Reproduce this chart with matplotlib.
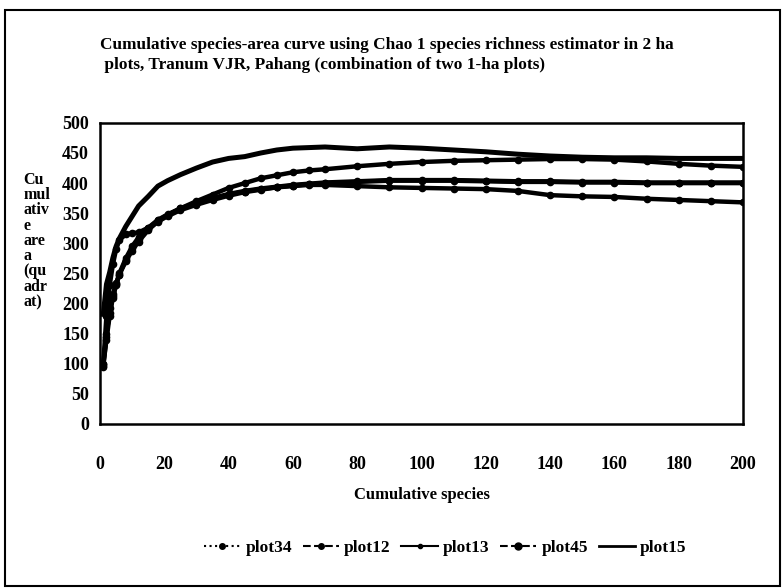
"""Cumulative species-area curve (Chao 1), Tranum VJR"""

import matplotlib
matplotlib.use('Agg')
import matplotlib.pyplot as plt
from matplotlib.lines import Line2D
from matplotlib.patches import Rectangle

# cumulative species (x)
species = [1, 2, 3, 4, 5, 6, 8, 10, 12, 15, 18, 21, 25, 30, 35, 40, 45, 50, 55, 60,
           65, 70, 80, 90, 100, 110, 120, 130, 140, 150, 160, 170, 180, 190, 200]

# cumulative area values
plot34 = [100, 180, 230, 265, 290, 305, 315, 317, 318, 326, 339, 348, 358, 367, 375, 382,
          387, 391, 394, 397, 399, 401, 403, 405, 405, 405, 404, 403, 403, 402, 402, 401,
          401, 401, 401]
plot12 = [95, 145, 192, 215, 234, 248, 270, 288, 303, 322, 337, 347, 358, 370, 381, 392,
          400, 408, 413, 418, 421, 423, 428, 432, 435, 437, 438, 439, 440, 440, 439, 436,
          432, 429, 427]
plot13 = [97, 140, 180, 210, 232, 250, 275, 295, 310, 325, 338, 347, 357, 366, 374, 381,
          386, 390, 393, 396, 398, 400, 402, 404, 404, 404, 403, 402, 402, 401, 401, 400,
          400, 400, 400]
plot45 = [100, 150, 185, 212, 230, 248, 272, 292, 307, 323, 336, 345, 355, 364, 372, 379,
          385, 389, 393, 395, 397, 397, 395, 393, 392, 391, 390, 387, 380, 378, 377, 374,
          372, 370, 368]
plot15 = [182, 232, 252, 276, 295, 308, 328, 345, 362, 378, 395, 404, 414, 425, 435, 441,
          444, 450, 455, 458, 459, 460, 457, 460, 458, 455, 452, 448, 445, 443, 442, 442,
          441, 441, 441]

series = {'plot34': plot34, 'plot12': plot12, 'plot13': plot13,
          'plot45': plot45, 'plot15': plot15}

plt.rcParams['font.family'] = ['Liberation Serif', 'DejaVu Serif']
plt.rcParams['font.weight'] = 'bold'

fig = plt.figure(figsize=(7.84, 5.88), dpi=100)
ax = fig.add_axes([0.1276, 0.279, 0.8201, 0.512])

for name, vals in series.items():
    if name == 'plot15':
        ax.plot(species, vals, color='black', lw=3.6)
    else:
        ax.plot(species, vals, color='black', lw=3.2, marker='o', ms=4.5)

ax.set_xlim(0, 200)
ax.set_ylim(0, 500)
ax.set_xticks(range(0, 201, 20))
ax.set_yticks(range(0, 501, 50))
ax.tick_params(length=0, labelsize=13)
ax.tick_params(axis='x', pad=23)
ax.tick_params(axis='y', pad=8)
for lab in ax.get_xticklabels() + ax.get_yticklabels():
    lab.set_fontweight('bold')
for sp in ax.spines.values():
    sp.set_linewidth(1.8)

ax.set_xlabel('Cumulative species', fontsize=12, fontweight='bold', labelpad=10)
fig.text(0.03, 0.708, 'Cu\nmul\nativ\ne\nare\na\n(qu\nadr\nat)', fontsize=11.5,
         fontweight='bold', va='top', ha='left', linespacing=0.94)

fig.text(0.127, 0.937,
         'Cumulative species-area curve using Chao 1 species richness estimator in 2 ha\n'
         ' plots, Tranum VJR, Pahang (combination of two 1-ha plots)',
         fontsize=12.4, fontweight='bold', va='top', ha='left', linespacing=1.35)

# legend handles as in the original key
handles = [Line2D([], [], color='black', ls=':', lw=1.5, marker='o', ms=4),
           Line2D([], [], color='black', ls='--', lw=1.5, marker='o', ms=4),
           Line2D([], [], color='black', ls='-', lw=1.5, marker='o', ms=3),
           Line2D([], [], color='black', ls='--', lw=1.5, marker='o', ms=5),
           Line2D([], [], color='black', ls='-', lw=2)]
fig.legend(handles, list(series.keys()), loc='center', bbox_to_anchor=(0.568, 0.068),
           ncol=5, frameon=False, handlelength=2.1, columnspacing=0.6,
           handletextpad=0.3, prop={'weight': 'bold', 'size': 12.5})

fig.add_artist(Rectangle((0.006, 0.004), 0.989, 0.979, transform=fig.transFigure,
                         fill=False, lw=1.5, color='black'))

fig.savefig('out.png', dpi=100)
